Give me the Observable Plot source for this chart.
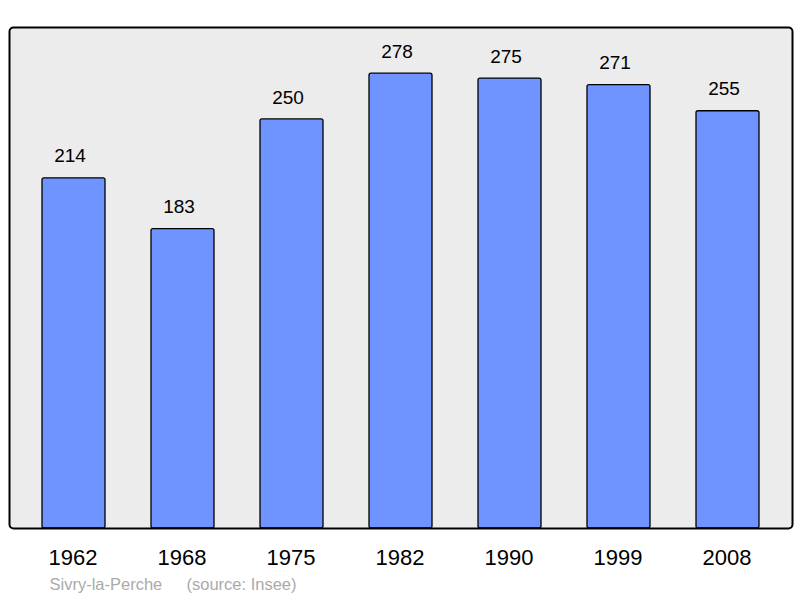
<!DOCTYPE html>
<html>
<head>
<meta charset="utf-8">
<script src="https://cdn.jsdelivr.net/npm/d3@7"></script>
<script src="https://cdn.jsdelivr.net/npm/@observablehq/plot@0.6"></script>
<style>
  html, body { margin: 0; padding: 0; background: #fff; }
  svg { display: block; }
</style>
</head>
<body>
<div id="chart"></div>
<script>
const years = ["1962", "1968", "1975", "1982", "1990", "1999", "2008"];
const population = [214, 183, 250, 278, 275, 271, 255];
const captionPlace = "Sivry-la-Perche";
const captionSource = "(source: Insee)";

const data = years.map((year, i) => ({year, value: population[i]}));
const font = "Liberation Sans, Arial, sans-serif";

const chart = Plot.plot({
  width: 800,
  height: 598,
  marginTop: 27,
  marginBottom: 70,
  marginLeft: 9,
  marginRight: 8,
  style: {fontFamily: font, background: "#fff"},
  x: {domain: years, paddingInner: 0.424, paddingOuter: 0.294, axis: null},
  y: {domain: [0, 306.2], axis: null},
  marks: [
    Plot.frame({fill: "#ececec", stroke: "none", rx: 4}),
    Plot.barY(data, {x: "year", y: "value", fill: "#7094ff", stroke: "#000", strokeWidth: 1.3, rx: 2}),
    Plot.text(data, {x: "year", y: "value", text: d => String(d.value), dx: -4, dy: -22, fontSize: 19, fill: "#000", lineAnchor: "middle"}),
    Plot.text(data, {x: "year", text: "year", frameAnchor: "bottom", dx: -1, dy: 29, fontSize: 22, fill: "#000", lineAnchor: "middle"}),
    Plot.text([captionPlace], {frameAnchor: "bottom-left", dx: 40, dy: 56, fontSize: 16.5, fill: "#aaaaaa", textAnchor: "start", lineAnchor: "middle"}),
    Plot.text([captionSource], {frameAnchor: "bottom-left", dx: 177, dy: 56, fontSize: 16.5, fill: "#aaaaaa", textAnchor: "start", lineAnchor: "middle"}),
    Plot.frame({fill: "none", stroke: "#000", strokeWidth: 2, rx: 4})
  ]
});
document.getElementById("chart").appendChild(chart);
</script>
</body>
</html>
